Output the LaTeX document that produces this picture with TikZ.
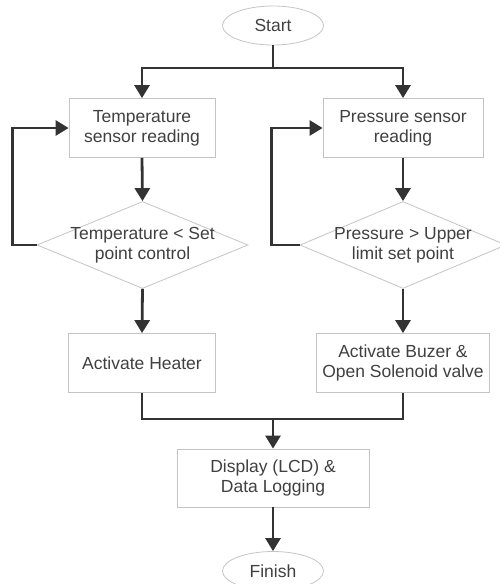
\documentclass[tikz,border=0pt]{standalone}
\usepackage{fontspec}
\setmainfont{Liberation Sans}
\usetikzlibrary{arrows.meta, shapes.geometric}

\definecolor{flowline}{HTML}{333333}
\definecolor{boxline}{HTML}{C4C4C4}
\definecolor{boxtext}{HTML}{404040}

\tikzset{
	base/.style={draw=boxline, line width=0.8pt, text=boxtext, align=center,
		font=\fontsize{17.5}{20}\selectfont, inner sep=0pt},
	process/.style={base, rectangle, minimum height=59pt},
	terminal/.style={base, ellipse, minimum width=101pt, minimum height=39pt},
	decision/.style={base, diamond, minimum width=#1, minimum height=87pt},
	line/.style={draw=flowline, line width=2.8pt},
	arrow/.style={line, -{Triangle[width=15pt, length=13pt]}},
}

\begin{document}
\begin{tikzpicture}[x=1pt, y=-1pt]

		\useasboundingbox (0,0) rectangle (500,584);

		\node[terminal] (start) at (273,25.5) {Start};

		\node[process, minimum width=146pt] (temp)  at (142,128) {Temperature\\sensor reading};
		\node[process, minimum width=160pt] (press) at (403,128) {Pressure sensor\\reading};

		\node[decision=211pt, label={[base, draw=none]center:Temperature < Set\\point control}] (tempchk) at (142.5,245) {};
		\node[decision=206pt, label={[base, draw=none]center:Pressure > Upper\\limit set point}] (presschk) at (403,245) {};

		\node[process, minimum width=147pt] (heater) at (142,363) {Activate Heater};
		\node[process, minimum width=173pt] (buzzer) at (403,363) {Activate Buzer \&\\Open Solenoid valve};

		\node[process, minimum width=192pt, minimum height=58pt] (display) at (273,478) {Display (LCD) \&\\Data Logging};

		\node[terminal] (finish) at (273,571) {Finish};

		% split after start
		\coordinate (split) at (273,68);
		\draw[line] (start.south) -- (split);
		\draw[arrow] (split) -| (temp.north);
		\draw[arrow] (split) -| (press.north);

		% both branches
		\draw[arrow] (temp.south) -- (tempchk.north);
		\draw[arrow] (press.south) -- (presschk.north);
		\draw[arrow] (tempchk.west) -- ++(-24,0) |- (temp.west);
		\draw[arrow] (presschk.west) -- ++(-28,0) |- (press.west);
		\draw[arrow] (tempchk.south) -- (heater.north);
		\draw[arrow] (presschk.south) -- (buzzer.north);

		% join and finish
		\coordinate (merge) at (273,419);
		\draw[line] (heater.south) |- (merge);
		\draw[line] (buzzer.south) |- (merge);
		\draw[arrow] (merge) -- (display.north);
		\draw[arrow] (display.south) -- (finish.north);

	\end{tikzpicture}
\end{document}
